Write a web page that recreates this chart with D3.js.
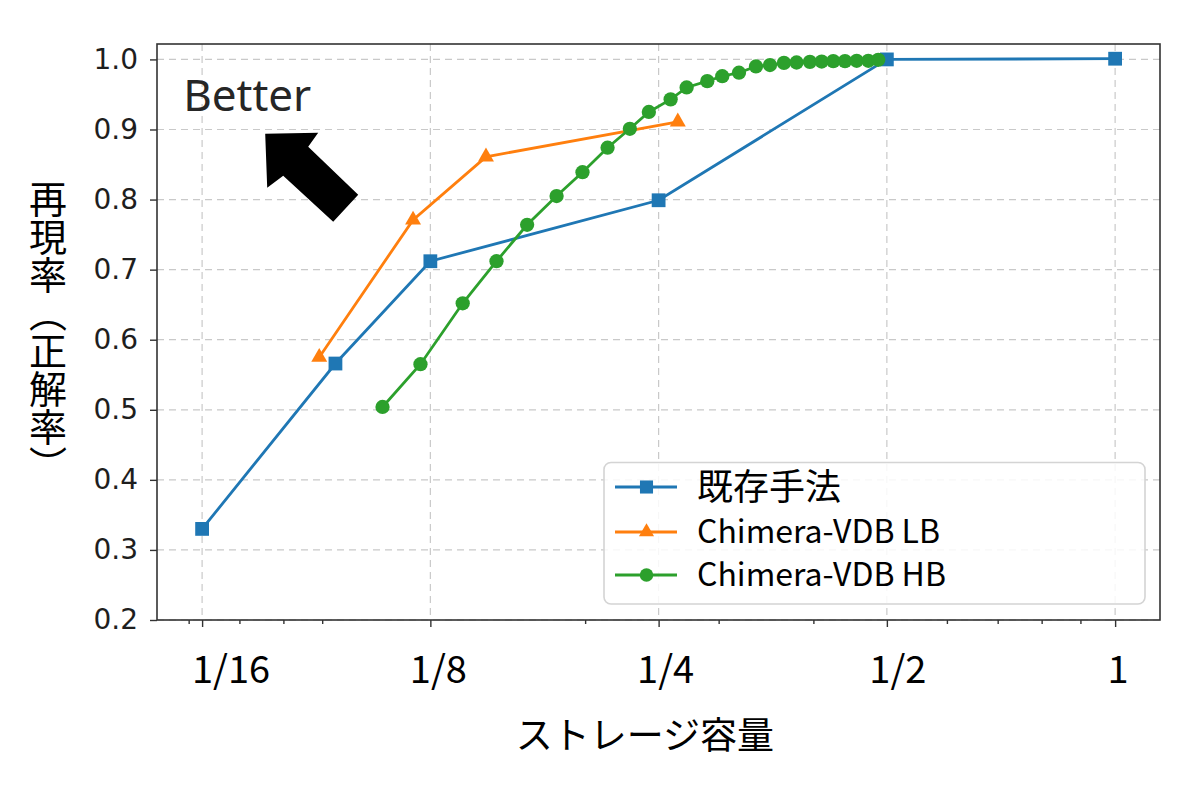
<!DOCTYPE html>
<html>
<head>
<meta charset="utf-8">
<script src="https://cdn.jsdelivr.net/npm/d3@7"></script>
<style>
  html, body { margin: 0; padding: 0; background: #fff; }
  svg { display: block; }
</style>
</head>
<body>
<svg id="chart" width="1200" height="789"></svg>
<script>
// ---- data ----
let seriesNames = ["既存手法", "Chimera-VDB LB", "Chimera-VDB HB"];
let seriesColors = ["#1f77b4", "#ff7f0e", "#2ca02c"];

let baseX = [1/16, 0.0937, 1/8, 1/4, 1/2, 1];
let baseY = [0.330, 0.566, 0.712, 0.799, 1.000, 1.001];

let lbX = [0.0892, 0.1186, 0.148, 0.265];
let lbY = [0.575, 0.771, 0.861, 0.911];

let hbX = [0.1081, 0.1213, 0.1379, 0.1528, 0.1677, 0.1834, 0.1984, 0.2141, 0.2291,
           0.2427, 0.2593, 0.2722, 0.2898, 0.3033, 0.3191, 0.3360, 0.3506, 0.3658,
           0.3801, 0.3958, 0.4102, 0.4249, 0.4403, 0.4562, 0.4726, 0.4871];
let hbY = [0.504, 0.565, 0.652, 0.712, 0.764, 0.805, 0.839, 0.874, 0.901,
           0.925, 0.943, 0.960, 0.969, 0.976, 0.981, 0.990, 0.992, 0.995,
           0.9956, 0.9965, 0.997, 0.9975, 0.9975, 0.998, 0.998, 0.9995];

let xTicks = [1/16, 1/8, 1/4, 1/2, 1];
let xTickLabels = ["1/16", "1/8", "1/4", "1/2", "1"];
let xMinorTicks = [0.06, 0.07, 0.08, 0.09, 0.2, 0.3, 0.4, 0.6, 0.7, 0.8, 0.9];
let yTicks = [0.2, 0.3, 0.4, 0.5, 0.6, 0.7, 0.8, 0.9, 1.0];

// label nudges (the tick labels in the original sit a bit right of their ticks)
let xLabelNudge = [29, 8, 7, 11, 3];
let legendFontSize = [36, 32, 32];

let svg = d3.select("#chart");

let plotLeft = 157, plotRight = 1160, plotTop = 44, plotBottom = 620;

let x = d3.scaleLog().base(2)
    .domain([0.0545, 1.146])
    .range([plotLeft, plotRight]);
let y = d3.scaleLinear()
    .domain([0.2, 1.022])
    .range([plotBottom, plotTop]);

// grid
let grid = svg.append("g").attr("class", "grid")
    .attr("stroke", "#b8b8b8")
    .attr("stroke-width", 1.2)
    .attr("stroke-dasharray", "7,5")
    .attr("opacity", 0.75);
grid.selectAll("line.gx").data(xTicks).enter().append("line")
    .attr("class", "gx")
    .attr("x1", d => x(d)).attr("x2", d => x(d))
    .attr("y1", plotTop).attr("y2", plotBottom);
grid.selectAll("line.gy").data(yTicks).enter().append("line")
    .attr("class", "gy")
    .attr("x1", plotLeft).attr("x2", plotRight)
    .attr("y1", d => y(d)).attr("y2", d => y(d));

// axes
svg.append("g")
    .attr("transform", "translate(0," + plotBottom + ")")
    .call(d3.axisBottom(x).tickValues(xTicks).tickSize(7).tickFormat(""));
svg.append("g")
    .attr("transform", "translate(0," + plotBottom + ")")
    .call(d3.axisBottom(x).tickValues(xMinorTicks).tickSize(4).tickFormat(""));
let yAxis = svg.append("g")
    .attr("transform", "translate(" + plotLeft + ",0)")
    .call(d3.axisLeft(y).tickValues(yTicks).tickSize(7).tickPadding(12)
          .tickFormat(d3.format(".1f")));

svg.selectAll(".tick line").attr("stroke", "#333").attr("stroke-width", 1.4);
svg.selectAll(".domain").remove();

yAxis.selectAll("text")
    .attr("font-family", "DejaVu Sans")
    .attr("font-size", 28)
    .attr("fill", "#1e1e1e");

// x tick labels (overlaid style)
svg.append("g").selectAll("text").data(xTicks).enter().append("text")
    .attr("x", (d, i) => x(d) + xLabelNudge[i])
    .attr("y", 683)
    .attr("text-anchor", "middle")
    .attr("font-family", "Noto Sans CJK JP")
    .attr("font-size", 38)
    .attr("fill", "#000")
    .text((d, i) => xTickLabels[i]);

// frame
svg.append("rect")
    .attr("x", plotLeft).attr("y", plotTop)
    .attr("width", plotRight - plotLeft).attr("height", plotBottom - plotTop)
    .attr("fill", "none").attr("stroke", "#333").attr("stroke-width", 1.6);

// series
let series = [
  {name: seriesNames[0], xs: baseX, ys: baseY, color: seriesColors[0], symbol: d3.symbolSquare, size: 190},
  {name: seriesNames[1], xs: lbX, ys: lbY, color: seriesColors[1], symbol: d3.symbolTriangle, size: 110},
  {name: seriesNames[2], xs: hbX, ys: hbY, color: seriesColors[2], symbol: d3.symbolCircle, size: 160}
];

let line = d3.line().x(d => x(d[0])).y(d => y(d[1]));

series.forEach(function(s) {
  let pts = s.xs.map((v, i) => [v, s.ys[i]]);
  let g = svg.append("g");
  g.append("path")
      .datum(pts)
      .attr("d", line)
      .attr("fill", "none")
      .attr("stroke", s.color)
      .attr("stroke-width", 2.8);
  g.selectAll("path.m").data(pts).enter().append("path")
      .attr("class", "m")
      .attr("transform", d => "translate(" + x(d[0]) + "," + y(d[1]) + ")")
      .attr("d", d3.symbol().type(s.symbol).size(s.size))
      .attr("fill", s.color);
});

// "Better" annotation
let betterAt = [0.059, 0.926];
let arrowTip = [0.0757, 0.894];
svg.append("text")
    .attr("x", x(betterAt[0])).attr("y", y(betterAt[1]))
    .attr("font-family", "Noto Sans")
    .attr("font-size", 44)
    .attr("fill", "#262626")
    .text("Better");
let arrowShape = [[0, 0], [53, -1], [43, 13], [93, 61], [68, 88], [18, 42], [2, 54]];
svg.append("polygon")
    .attr("transform", "translate(" + x(arrowTip[0]) + "," + y(arrowTip[1]) + ")")
    .attr("points", arrowShape.map(p => p.join(",")).join(" "))
    .attr("fill", "#000");

// legend
let legend = svg.append("g");
legend.append("rect")
    .attr("x", 604).attr("y", 462.5)
    .attr("width", 541).attr("height", 141.5)
    .attr("rx", 7)
    .attr("fill", "#fff").attr("fill-opacity", 0.85)
    .attr("stroke", "#d4d4d4").attr("stroke-width", 1.6);
let rowY = [487, 532, 575];
series.forEach(function(s, i) {
  let r = legend.append("g").attr("transform", "translate(0," + rowY[i] + ")");
  r.append("line").attr("x1", 615).attr("x2", 677).attr("y1", 0).attr("y2", 0)
      .attr("stroke", s.color).attr("stroke-width", 2.8);
  r.append("path").attr("transform", "translate(646.5,0)")
      .attr("d", d3.symbol().type(s.symbol).size(s.size * 0.9))
      .attr("fill", s.color);
  r.append("text").attr("x", 697).attr("y", i === 0 ? 13 : 11)
      .attr("font-family", "Noto Sans CJK JP")
      .attr("font-size", legendFontSize[i])
      .attr("fill", "#000")
      .text(s.name);
});

// axis titles
svg.append("text")
    .attr("x", 645).attr("y", 749)
    .attr("text-anchor", "middle")
    .attr("font-family", "Noto Sans CJK JP")
    .attr("font-size", 37)
    .attr("fill", "#000")
    .text("ストレージ容量");

svg.append("text")
    .attr("x", 48).attr("y", 180)
    .attr("font-family", "Noto Sans CJK JP")
    .attr("font-size", 38)
    .attr("fill", "#000")
    .style("writing-mode", "vertical-rl")
    .style("text-orientation", "upright")
    .text("再現率（正解率）");
</script>
</body>
</html>
